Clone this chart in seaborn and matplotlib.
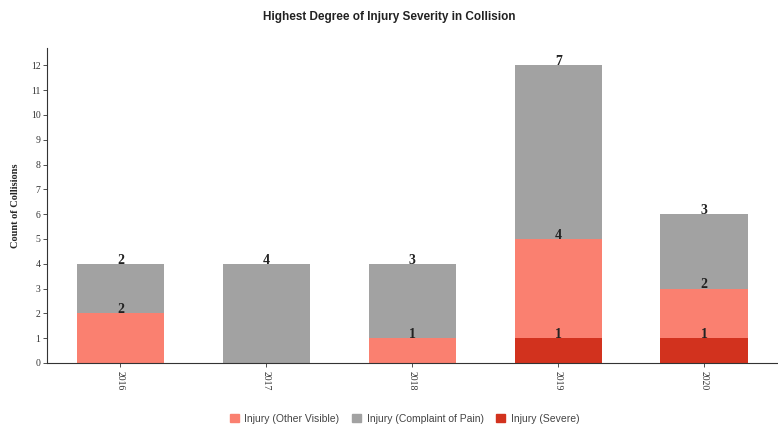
import matplotlib
matplotlib.use("Agg")
import matplotlib.pyplot as plt
import numpy as np
import pandas as pd
import seaborn as sns
from matplotlib.patches import Patch

years = ["2016", "2017", "2018", "2019", "2020"]
severe = [0, 0, 0, 1, 1]
other_visible = [2, 0, 1, 4, 2]
complaint_pain = [2, 4, 3, 7, 3]

# stacking order bottom -> top
layers = [
    ("Injury (Severe)", severe, "#d2321e"),
    ("Injury (Other Visible)", other_visible, "#fa8070"),
    ("Injury (Complaint of Pain)", complaint_pain, "#a2a2a2"),
]

sns.set_theme(style="white")
plt.rcParams["font.family"] = ["Liberation Sans", "DejaVu Sans"]

fig = plt.figure(figsize=(7.78, 4.28), dpi=100)
ax = fig.add_axes([0.061, 0.152, 0.938, 0.736])

cum = np.cumsum([np.array(v) for _, v, _ in layers], axis=0)

# draw from the top layer down so lower layers sit in front
for i in reversed(range(len(layers))):
    name, vals, color = layers[i]
    df = pd.DataFrame({"year": years, "total": cum[i]})
    sns.barplot(data=df, x="year", y="total", color=color, width=0.6,
                saturation=1, ax=ax, linewidth=0)

# value labels at the top of each segment
for i, (name, vals, color) in enumerate(layers):
    for j, v in enumerate(vals):
        if v > 0:
            ax.annotate(str(v), (j, cum[i][j]), xytext=(0, -2),
                        textcoords="offset points", ha="center", va="bottom",
                        fontsize=10, fontweight="bold",
                        family="Liberation Serif", color="#222222")

ax.set_ylim(0, 12.7)
ax.set_xlim(-0.5, 4.5)
ax.set_yticks(range(0, 13))
ax.set_xlabel("")
ax.set_ylabel("Count of Collisions", family="Liberation Serif",
              fontweight="bold", fontsize=7.5, labelpad=8)
ax.tick_params(axis="y", labelsize=7, length=3, width=0.6, pad=2,
               colors="#333333", left=True)
ax.tick_params(axis="x", labelsize=7, length=3, width=0.6, pad=3,
               colors="#333333", bottom=True, labelrotation=-90)
for lab in ax.get_xticklabels() + ax.get_yticklabels():
    lab.set_family("Liberation Serif")
for s in ["top", "right"]:
    ax.spines[s].set_visible(False)
for s in ["left", "bottom"]:
    ax.spines[s].set_color("#333333")
    ax.spines[s].set_linewidth(0.8)

fig.suptitle("Highest Degree of Injury Severity in Collision", y=0.975,
             fontsize=8.5, fontweight="bold", color="#222222")

handles = [Patch(color=layers[1][2], label=layers[1][0]),
           Patch(color=layers[2][2], label=layers[2][0]),
           Patch(color=layers[0][2], label=layers[0][0])]
fig.legend(handles=handles, loc="lower center", bbox_to_anchor=(0.52, -0.012),
           ncol=3, frameon=False, fontsize=7.5, handlelength=0.9,
           handleheight=0.9, handletextpad=0.5, columnspacing=1.2,
           labelcolor="#444444")

fig.savefig("out.png", dpi=100)
